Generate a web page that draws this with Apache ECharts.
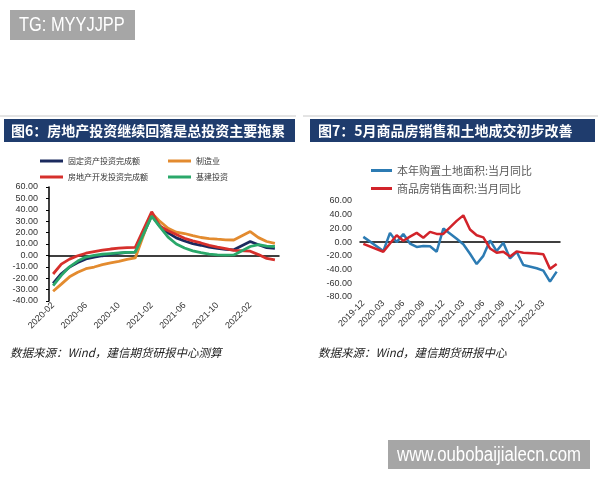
<!DOCTYPE html>
<html>
<head>
<meta charset="utf-8">
<script src="https://cdn.jsdelivr.net/npm/echarts@6/dist/echarts.min.js"></script>
<style>
html, body { margin: 0; padding: 0; background: #fff; }
#main { width: 600px; height: 480px; }
</style>
</head>
<body>
<div id="main"></div>
<script>
// 图6：累计同比，1月无数据（null，连线跨过）
const months6 = [
  '2020-02','2020-03','2020-04','2020-05','2020-06','2020-07','2020-08','2020-09','2020-10','2020-11','2020-12',
  '2021-01','2021-02','2021-03','2021-04','2021-05','2021-06','2021-07','2021-08','2021-09','2021-10','2021-11','2021-12',
  '2022-01','2022-02','2022-03','2022-04','2022-05'
];
const fixedInv = [-24.5,-16.1,-10.3,-6.3,-3.1,-1.6,-0.3,0.8,1.8,2.6,2.9,
  null,35.0,25.6,19.9,15.4,12.6,10.3,8.9,7.3,6.1,5.2,4.9,
  null,12.2,9.3,6.8,6.2];
const manufacturing = [-31.5,-25.2,-18.8,-14.8,-11.7,-10.2,-8.1,-6.5,-5.3,-3.5,-2.2,
  null,37.3,29.8,23.8,20.4,19.2,17.3,15.7,14.8,14.2,13.7,13.5,
  null,20.9,15.6,12.2,10.6];
const realEstate = [-16.3,-7.7,-3.3,-0.3,1.9,3.4,4.6,5.6,6.3,6.8,7.0,
  null,38.3,25.6,21.6,18.3,15.0,12.7,10.9,8.8,7.2,6.0,4.4,
  null,3.7,0.7,-2.7,-4.0];
const infra = [-26.5,-17.5,-10.0,-5.0,-1.5,0.0,1.0,1.6,2.2,2.6,2.9,
  null,34.5,25.0,16.0,10.0,6.5,4.0,2.5,1.2,0.5,0.2,0.4,
  null,7.8,9.5,8.2,7.8];

// 图7：当月同比
const months7 = [
  '2019-12',
  '2020-01','2020-02','2020-03','2020-04','2020-05','2020-06','2020-07','2020-08','2020-09','2020-10','2020-11','2020-12',
  '2021-01','2021-02','2021-03','2021-04','2021-05','2021-06','2021-07','2021-08','2021-09','2021-10','2021-11','2021-12',
  '2022-01','2022-02','2022-03','2022-04','2022-05'
];
const landArea = [7.7,
  null,null,-13,13.5,0,12,-2,-7,-5.5,-6,-14,19.8,
  null,5,-3,-17,-32,-20,2.5,-13,-1,-23.7,-14,-33.3,
  null,-38,-41.5,-57.5,-43];
const salesArea = [-2.5,
  null,null,-14,-2,10,2,8,13.5,6.5,15,12,12,
  null,31,39,18.5,10,7,-9.2,-15.5,-14,-21,-13.5,-15.5,
  null,-16.5,-17.7,-39,-32];

const CN = '"Noto Sans CJK SC", sans-serif';
const EN = '"Liberation Sans", Arial, sans-serif';
const BANNER = '#1f3c6d';

const chart = echarts.init(document.getElementById('main'));

function line(name, data, color, xi, yi, width) {
  return {
    name: name, type: 'line', data: data,
    xAxisIndex: xi, yAxisIndex: yi,
    connectNulls: true, symbol: 'none', showSymbol: false,
    lineStyle: { color: color, width: width },
    itemStyle: { color: color }
  };
}

const fmt2 = v => v.toFixed(2);

chart.setOption({
  backgroundColor: '#fff',
  animation: false,
  textStyle: { fontFamily: EN },
  legend: [
    { left: 35, top: 152, orient: 'vertical', itemGap: 8, itemWidth: 23, itemHeight: 3, icon: 'rect',
      textStyle: { fontSize: 8, color: '#333', fontFamily: CN },
      data: ['固定资产投资完成额', '房地产开发投资完成额'] },
    { left: 163, top: 152, orient: 'vertical', itemGap: 8, itemWidth: 23, itemHeight: 3, icon: 'rect',
      textStyle: { fontSize: 8, color: '#333', fontFamily: CN },
      data: ['制造业', '基建投资'] },
    { left: 366, top: 160, orient: 'vertical', itemGap: 7, itemWidth: 21, itemHeight: 3, icon: 'rect',
      textStyle: { fontSize: 11, color: '#595959', fontFamily: CN },
      data: ['本年购置土地面积:当月同比', '商品房销售面积:当月同比'] }
  ],
  grid: [
    { left: 49, top: 187, width: 230, height: 114 },
    { left: 360, top: 201, width: 200, height: 96 }
  ],
  xAxis: [
    { type: 'category', gridIndex: 0, data: months6,
      axisLine: { onZero: true, lineStyle: { color: '#000', width: 1.5 } },
      axisTick: { interval: 3, length: 3, lineStyle: { color: '#000' } },
      axisLabel: { show: false }, splitLine: { show: false } },
    { type: 'category', gridIndex: 0, data: months6, position: 'bottom',
      axisLine: { show: false, onZero: false }, axisTick: { show: false },
      axisLabel: { interval: 3, rotate: 45, fontSize: 9, color: '#333', margin: 3 } },
    { type: 'category', gridIndex: 1, data: months7,
      axisLine: { onZero: true, lineStyle: { color: '#000', width: 1.5 } },
      axisTick: { interval: 2, length: 3, lineStyle: { color: '#000' } },
      axisLabel: { show: false }, splitLine: { show: false } },
    { type: 'category', gridIndex: 1, data: months7, position: 'bottom',
      axisLine: { show: false, onZero: false }, axisTick: { show: false },
      axisLabel: { interval: 2, rotate: 45, fontSize: 9, color: '#333', margin: 5 } }
  ],
  yAxis: [
    { type: 'value', gridIndex: 0, min: -40, max: 60, interval: 10,
      axisLine: { show: true, lineStyle: { color: '#000', width: 1.5 } },
      axisTick: { show: true, length: 3, lineStyle: { color: '#000' } },
      axisLabel: { fontSize: 9, color: '#333', margin: 11, formatter: fmt2 },
      splitLine: { show: false } },
    { type: 'value', gridIndex: 1, min: -80, max: 60, interval: 20,
      axisLine: { show: false }, axisTick: { show: false },
      axisLabel: { fontSize: 9, color: '#333', margin: 8, formatter: fmt2 },
      splitLine: { show: false } }
  ],
  series: [
    line('固定资产投资完成额', fixedInv, '#1b2a5e', 0, 0, 2.8),
    line('制造业', manufacturing, '#e38b2f', 0, 0, 2.8),
    line('房地产开发投资完成额', realEstate, '#d6302c', 0, 0, 2.8),
    line('基建投资', infra, '#2aa86a', 0, 0, 2.8),
    line('本年购置土地面积:当月同比', landArea, '#2c7bb3', 2, 1, 2.5),
    line('商品房销售面积:当月同比', salesArea, '#d2232a', 2, 1, 2.5)
  ],
  graphic: [
    { type: 'rect', shape: { x: 10, y: 10, width: 125, height: 30 }, style: { fill: '#a6a6a6' } },
    { type: 'text', x: 19, y: 25, scaleX: 0.82,
      style: { text: 'TG: MYYJJPP', fill: '#fff', fontSize: 20, fontFamily: EN, verticalAlign: 'middle' } },

    { type: 'line', shape: { x1: 0, y1: 116, x2: 296, y2: 116 }, style: { stroke: '#c8c8c8', lineWidth: 1 } },
    { type: 'rect', shape: { x: 4, y: 119, width: 291, height: 23 }, style: { fill: BANNER } },
    { type: 'text', x: 11, y: 131,
      style: { text: '图6：房地产投资继续回落是总投资主要拖累', fill: '#fff', fontSize: 14, fontWeight: 'bold',
               fontFamily: CN, verticalAlign: 'middle' } },

    { type: 'line', shape: { x1: 303, y1: 116, x2: 598, y2: 116 }, style: { stroke: '#c8c8c8', lineWidth: 1 } },
    { type: 'rect', shape: { x: 310, y: 119, width: 285, height: 23 }, style: { fill: BANNER } },
    { type: 'text', x: 318, y: 131,
      style: { text: '图7：5月商品房销售和土地成交初步改善', fill: '#fff', fontSize: 14, fontWeight: 'bold',
               fontFamily: CN, verticalAlign: 'middle' } },

    { type: 'text', x: 10, y: 353,
      style: { text: '数据来源：Wind，建信期货研报中心测算', fill: '#222', fontSize: 11.5, fontStyle: 'italic',
               fontFamily: CN, verticalAlign: 'middle' } },
    { type: 'text', x: 318, y: 353,
      style: { text: '数据来源：Wind，建信期货研报中心', fill: '#222', fontSize: 11.5, fontStyle: 'italic',
               fontFamily: CN, verticalAlign: 'middle' } },

    { type: 'rect', shape: { x: 388, y: 440, width: 202, height: 29 }, style: { fill: '#a6a6a6' } },
    { type: 'text', x: 397, y: 455, scaleX: 0.84,
      style: { text: 'www.oubobaijialecn.com', fill: '#fff', fontSize: 20, fontFamily: EN, verticalAlign: 'middle' } }
  ]
});
</script>
</body>
</html>
